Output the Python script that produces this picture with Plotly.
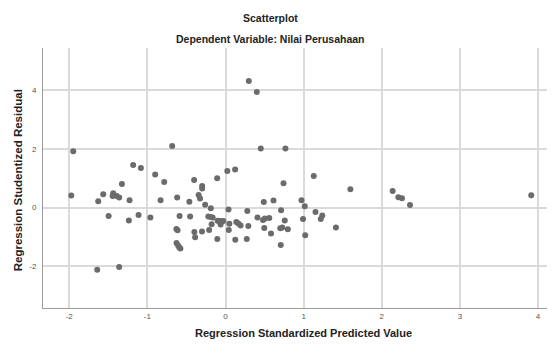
import plotly.graph_objects as go

predicted = [-1.974, -1.949, -1.642, -1.629, -1.565, -1.496, -1.437, -1.445, -1.394, -1.361,
             -1.361, -1.326, -1.228, -1.237, -1.182, -1.113, -1.083, -0.962, -0.900, -0.831,
             -0.785, -0.683, -0.619, -0.588, -0.629, -0.614, -0.627, -0.607, -0.593, -0.578,
             -0.463, -0.453, -0.402, -0.399, -0.389, -0.344, -0.326, -0.299, -0.299, -0.301,
             -0.261, -0.210, -0.220, -0.188, -0.188, -0.165, -0.178, -0.107, -0.105, -0.101,
             -0.079, -0.058, -0.028, -0.063, 0.023, 0.038, 0.049, 0.042, 0.123, 0.125,
             0.138, 0.164, 0.193, 0.279, 0.292, 0.272, 0.298, 0.400, 0.409, 0.451,
             0.480, 0.503, 0.560, 0.490, 0.496, 0.582, 0.614, 0.701, 0.726, 0.707,
             0.711, 0.742, 0.767, 0.758, 0.797, 0.972, 0.992, 1.014, 1.020, 1.129,
             1.152, 1.238, 1.219, 1.413, 1.598, 2.139, 2.212, 2.258, 2.361, 3.913]
residual = [0.407, 1.915, -2.115, 0.217, 0.455, -0.282, 0.489, 0.397, 0.397, 0.340,
            -2.014, 0.805, 0.251, -0.441, 1.450, -0.248, 1.348, -0.340, 1.121, 0.251,
            0.873, 2.095, 0.346, -0.282, -0.730, -0.767, -1.199, -1.284, -1.351, -1.392,
            0.200, -0.306, 0.941, -0.825, -1.005, 0.431, 0.306, 0.733, 0.649, -0.808,
            0.098, -0.757, -0.306, -0.020, -0.323, -0.340, -0.564, 0.998, -1.070, -0.445,
            -0.475, -0.458, -0.452, -0.574, 1.246, -0.068, -0.547, -0.764, 1.297, -1.090,
            -0.486, -0.537, -0.611, -0.112, -0.625, -1.063, 4.302, 3.929, -0.340, 2.003,
            -0.418, -0.367, -0.357, 0.194, -0.696, -0.883, 0.238, -0.699, -0.672, -1.267,
            -0.088, 0.829, 2.003, -0.435, -0.733, 0.251, -0.384, 0.048, -0.937, 1.070,
            -0.153, -0.265, -0.384, -0.679, 0.625, 0.567, 0.353, 0.319, 0.092, 0.421]

x_ticks = [-2, -1, 0, 1, 2, 3, 4]
y_ticks = [-2, 0, 2, 4]

title_text = "Scatterplot"
subtitle_text = "Dependent Variable: Nilai Perusahaan"
x_title = "Regression Standardized Predicted Value"
y_title = "Regression Studentized Residual"

FONT = "Liberation Sans, Arial, sans-serif"

fig = go.Figure()
fig.add_trace(go.Scatter(
    x=predicted, y=residual, mode="markers",
    marker=dict(color="#6b6b6b", size=6, line=dict(width=0)),
    showlegend=False, hoverinfo="x+y",
))

axis_common = dict(
    showgrid=True, gridcolor="#dadada", gridwidth=1.5,
    zeroline=False, showline=True, linecolor="#9a9a9a", linewidth=1,
    ticks="", tickfont=dict(family=FONT, size=8, color="#555555"),
)

# page body has an 8px margin, so the figure is 8px smaller and its margins 8px tighter
fig.update_layout(
    width=547, height=337,
    margin=dict(l=35, r=6, t=40, b=37),
    paper_bgcolor="white", plot_bgcolor="white",
    font=dict(family=FONT, color="#222222"),
    xaxis=dict(range=[-2.336, 4.14], tickvals=x_ticks, ticktext=[str(v) for v in x_ticks], **axis_common),
    yaxis=dict(range=[-3.41, 5.42], tickvals=y_ticks, ticktext=[str(v) for v in y_ticks], ticklabelstandoff=4, **axis_common),
    annotations=[
        dict(text="<b>%s</b>" % title_text, xref="paper", yref="paper", x=0.449, y=1.115,
             xanchor="center", yanchor="middle", showarrow=False,
             font=dict(family=FONT, size=10.5, color="#222222")),
        dict(text="<b>%s</b>" % subtitle_text, xref="paper", yref="paper", x=0.449, y=1.036,
             xanchor="center", yanchor="middle", showarrow=False,
             font=dict(family=FONT, size=10.5, color="#222222")),
        dict(text="<b>%s</b>" % x_title, xref="paper", yref="paper", x=0.514, y=-0.096,
             xanchor="center", yanchor="middle", showarrow=False,
             font=dict(family=FONT, size=11, color="#222222")),
        dict(text="<b>%s</b>" % y_title, xref="paper", yref="paper", x=-0.049, y=0.492,
             xanchor="center", yanchor="middle", showarrow=False, textangle=-90,
             font=dict(family=FONT, size=11.5, color="#222222")),
    ],
)

fig.write_html("out.html")
